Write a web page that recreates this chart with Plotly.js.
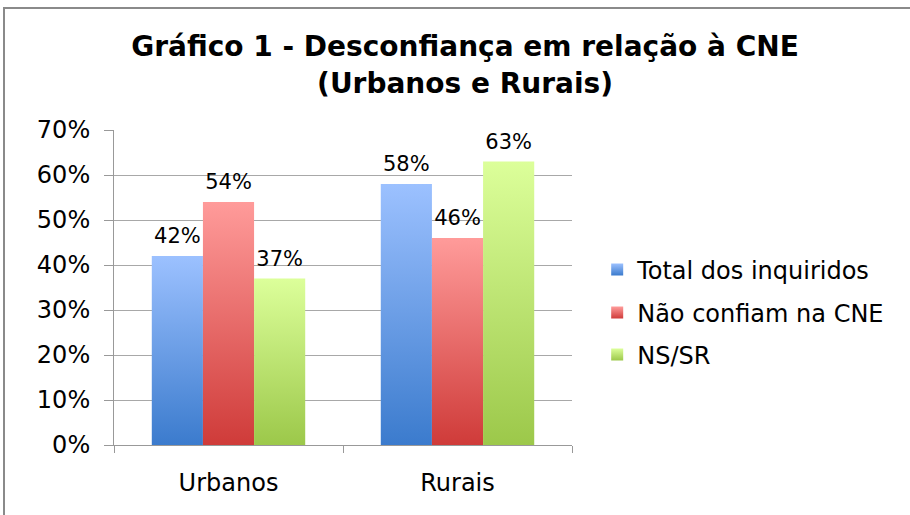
<!DOCTYPE html>
<html>
<head>
<meta charset="utf-8">
<script src="https://cdn.plot.ly/plotly-3.0.1.min.js"></script>
<style>
  html, body { margin: 0; padding: 0; background: #fff; }
  #wrap { position: relative; width: 910px; height: 515px; overflow: hidden; }
  #chart { position: absolute; left: 0; top: 0; width: 910px; height: 515px; }
  #frame { position: absolute; left: 3px; top: 7px; width: 930px; height: 540px;
           border: 2px solid #8a8a8a; pointer-events: none; box-sizing: border-box; }
</style>
</head>
<body>
<div id="wrap">
  <div id="chart"></div>
  <div id="frame"></div>
</div>
<script>
const categories = ["Urbanos", "Rurais"];
const seriesNames = ["Total dos inquiridos", "Não confiam na CNE", "NS/SR"];
const totalInquiridos = [0.42, 0.58];
const naoConfiam = [0.54, 0.46];
const nsSr = [0.37, 0.63];
const yTickVals = [0, 0.1, 0.2, 0.3, 0.4, 0.5, 0.6, 0.7];
const yTickText = ["0%", "10%", "20%", "30%", "40%", "50%", "60%", "70%"];

const gradients = [
  { id: "gBlue",  top: "#9cc1ff", bottom: "#3b7bcd" },
  { id: "gRed",   top: "#ff9b9a", bottom: "#cf3b39" },
  { id: "gGreen", top: "#dcff9a", bottom: "#9cc84a" }
];
const seriesValues = [totalInquiridos, naoConfiam, nsSr];
const legendIds = ["legend", "legend2", "legend3"];
const legendY = [0.556, 0.419, 0.286];
const FONT = "DejaVu Sans, sans-serif";

const traces = seriesValues.map((vals, i) => ({
  type: "bar",
  name: seriesNames[i],
  legend: legendIds[i],
  x: categories,
  y: vals,
  text: vals.map(v => Math.round(v * 100) + "%"),
  textposition: "outside",
  textfont: { family: FONT, size: 21, color: "#000" },
  cliponaxis: false,
  marker: { color: gradients[i].bottom, line: { width: 0 } },
  hoverinfo: "none"
}));

const layout = {
  width: 910,
  height: 515,
  margin: { l: 114, r: 338, t: 130, b: 70 },
  paper_bgcolor: "rgba(0,0,0,0)",
  plot_bgcolor: "rgba(0,0,0,0)",
  font: { family: FONT, color: "#000" },
  title: {
    text: "Gráfico 1 - Desconfiança em relação à CNE<br>(Urbanos e Rurais)",
    font: { family: FONT, size: 28, weight: "bold", color: "#000" },
    x: 0.511, xanchor: "center",
    y: 0.891, yanchor: "middle", yref: "container"
  },
  barmode: "group",
  bargap: 0.33,
  bargroupgap: 0,
  showlegend: true,
  xaxis: {
    type: "category",
    tickson: "boundaries",
    ticks: "outside",
    ticklen: 7,
    tickcolor: "#999",
    showline: true,
    linecolor: "#999",
    linewidth: 1,
    showgrid: false,
    tickfont: { family: FONT, size: 24, color: "#000" },
    ticklabelstandoff: 16
  },
  yaxis: {
    range: [0, 0.7],
    tickvals: yTickVals,
    ticktext: yTickText,
    ticks: "outside",
    ticklen: 9,
    tickcolor: "#999",
    showline: true,
    linecolor: "#999",
    linewidth: 1,
    showgrid: true,
    gridcolor: "#a8a8a8",
    gridwidth: 1,
    zeroline: false,
    tickfont: { family: FONT, size: 24, color: "#000" },
    ticklabelstandoff: 9
  }
};
legendIds.forEach((id, i) => {
  layout[id] = {
    x: 1.055, xanchor: "left",
    y: legendY[i], yanchor: "middle",
    font: { family: FONT, size: 24, color: "#000" },
    bgcolor: "rgba(0,0,0,0)"
  };
});

Plotly.newPlot("chart", traces, layout, { displayModeBar: false, staticPlot: true }).then(gd => {
  const svg = gd.querySelector(".main-svg");
  const ns = "http://www.w3.org/2000/svg";
  let defs = svg.querySelector("defs");
  if (!defs) { defs = document.createElementNS(ns, "defs"); svg.insertBefore(defs, svg.firstChild); }
  gradients.forEach(g => {
    const lg = document.createElementNS(ns, "linearGradient");
    lg.setAttribute("id", g.id);
    lg.setAttribute("x1", "0"); lg.setAttribute("y1", "0");
    lg.setAttribute("x2", "0"); lg.setAttribute("y2", "1");
    const s1 = document.createElementNS(ns, "stop");
    s1.setAttribute("offset", "0"); s1.setAttribute("stop-color", g.top);
    const s2 = document.createElementNS(ns, "stop");
    s2.setAttribute("offset", "1"); s2.setAttribute("stop-color", g.bottom);
    lg.appendChild(s1); lg.appendChild(s2);
    defs.appendChild(lg);
  });
  gd.querySelectorAll(".barlayer .trace.bars").forEach((tr, i) => {
    tr.querySelectorAll(".point path").forEach(p => { p.style.fill = "url(#" + gradients[i].id + ")"; });
    tr.querySelectorAll(".point text").forEach(t => {
      t.setAttribute("transform", (t.getAttribute("transform") || "") + " translate(0,-5)");
    });
  });
  legendIds.forEach((id, i) => {
    gd.querySelectorAll("." + id + " .legendpoints path").forEach(p => {
      p.style.fill = "url(#" + gradients[i].id + ")"; p.style.stroke = "none";
    });
  });
});
</script>
</body>
</html>
